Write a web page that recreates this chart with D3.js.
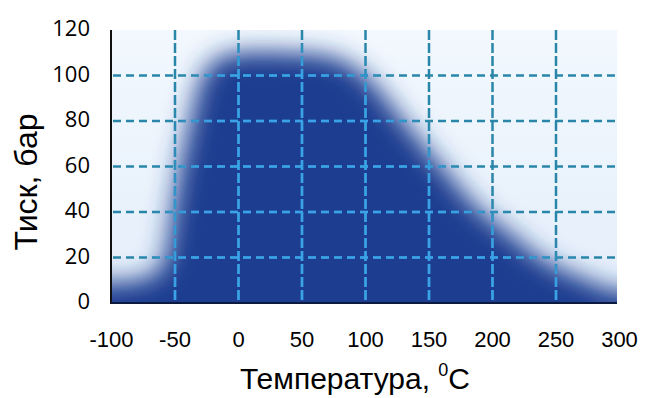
<!DOCTYPE html>
<html><head><meta charset="utf-8">
<script src="https://cdn.jsdelivr.net/npm/d3@7"></script>
<style>html,body{margin:0;padding:0;background:#fff;}svg{display:block;}</style>
</head><body>
<svg id="c" width="651" height="398"></svg>
<script>
// Upper pressure boundary of the operating region (bar) vs temperature (°C)
const temps     = [-100, -80, -65, -58, -52, -46, -38, -28, -15,   0,  40,  75,  95, 110, 130, 160, 190, 215, 240, 270, 300];
const pressures = [   9,  10,  13,  20,  40,  60,  80, 100, 108, 110, 110, 108, 102,  94,  80,  60,  41,  30,  19,  11,   5];
const xTickLabels = [-100, -50, 0, 50, 100, 150, 200, 250, 300];
const yTickLabels = [0, 20, 40, 60, 80, 100, 120];
const xGrid = [-50, 0, 50, 100, 150, 200, 250];
const yGrid = [20, 40, 60, 80, 100];
const xTitle = "Температура, ";
const xTitleSup = "0";
const xTitleUnit = "C";
const yTitle = "Тиск, бар";

const svg = d3.select("#c");
const L = 111, R = 617, T = 30, B = 303;
const x = d3.scaleLinear([-100, 300], [111.5, 619.5]);
const y = d3.scaleLinear([0, 120], [B, T]);

const defs = svg.append("defs");
defs.append("clipPath").attr("id", "plotClip")
  .append("rect").attr("x", L).attr("y", T).attr("width", R - L).attr("height", B - T);
const f = defs.append("filter").attr("id", "blur")
  .attr("x", "-20%").attr("y", "-20%").attr("width", "140%").attr("height", "140%");
f.append("feGaussianBlur").attr("stdDeviation", "13 12");

const pts = temps.map((t, i) => [x(t), y(pressures[i])]);
const n = pts.length;
const poly = [[pts[0][0] - 40, pts[0][1]], ...pts, [pts[n - 1][0] + 40, pts[n - 1][1]],
  [pts[n - 1][0] + 40, B + 40], [pts[0][0] - 40, B + 40]];
const line = d3.line().curve(d3.curveCatmullRom.alpha(0.5));
const pathD = line(poly) + "Z";

const mask = defs.append("mask").attr("id", "darkMask").attr("maskUnits", "userSpaceOnUse")
  .attr("x", 0).attr("y", 0).attr("width", 651).attr("height", 398);
mask.append("rect").attr("width", 651).attr("height", 398).attr("fill", "black");
mask.append("path").attr("d", pathD).attr("fill", "white").attr("filter", "url(#blur)");

const plot = svg.append("g").attr("clip-path", "url(#plotClip)");
const bg = defs.append("linearGradient").attr("id", "bgGrad").attr("x1", 0).attr("y1", 0).attr("x2", 0).attr("y2", 1);
bg.append("stop").attr("offset", 0).attr("stop-color", "#f2f8fe");
bg.append("stop").attr("offset", 1).attr("stop-color", "#e4eefa");
plot.append("rect").attr("x", L).attr("y", T).attr("width", R - L).attr("height", B - T).attr("fill", "url(#bgGrad)");
plot.append("path").attr("d", pathD).attr("fill", "#1c3c90").attr("filter", "url(#blur)");

function drawGrid(g, color) {
  g.selectAll("line.h").data(yGrid).join("line").attr("class", "h")
    .attr("x1", L + 2).attr("x2", R).attr("y1", d => y(d)).attr("y2", d => y(d))
    .attr("stroke", color).attr("stroke-width", 2.5).attr("stroke-dasharray", "8,5");
  g.selectAll("line.v").data(xGrid).join("line").attr("class", "v")
    .attr("x1", d => x(d)).attr("x2", d => x(d)).attr("y1", T).attr("y2", B)
    .attr("stroke", color).attr("stroke-width", 2.5).attr("stroke-dasharray", "10,3");
}
drawGrid(plot.append("g"), "#2a86a8");
drawGrid(plot.append("g").attr("mask", "url(#darkMask)"), "#3ba2ea");

svg.append("line").attr("x1", L).attr("x2", L).attr("y1", T).attr("y2", B + 1)
  .attr("stroke", "#111").attr("stroke-width", 2);
svg.append("line").attr("x1", L).attr("x2", R).attr("y1", B).attr("y2", B)
  .attr("stroke", "#0d1a40").attr("stroke-width", 2);

svg.selectAll("text.yt").data(yTickLabels).join("text").attr("class", "yt")
  .attr("x", 90).attr("y", d => y(d) + 6).attr("text-anchor", "end")
  .attr("font-family", "'Open Sans', sans-serif").attr("font-size", 22).attr("fill", "#000")
  .text(d => d);

svg.selectAll("text.xt").data(xTickLabels).join("text").attr("class", "xt")
  .attr("x", d => x(d)).attr("y", 347).attr("text-anchor", "middle")
  .attr("font-family", "'Liberation Sans', Arial, sans-serif").attr("font-size", 22).attr("fill", "#000")
  .text(d => d);

const xt = svg.append("text").attr("x", 355).attr("y", 389).attr("text-anchor", "middle")
  .attr("font-family", "'Liberation Sans', Arial, sans-serif").attr("font-size", 30).attr("fill", "#000");
xt.append("tspan").text(xTitle);
xt.append("tspan").attr("font-size", 18).attr("dy", -13).text(xTitleSup);
xt.append("tspan").attr("dy", 13).text(xTitleUnit);

svg.append("text").attr("transform", "translate(37,182) rotate(-90)").attr("text-anchor", "middle")
  .attr("font-family", "'Liberation Sans', Arial, sans-serif").attr("font-size", 32).attr("fill", "#000")
  .text(yTitle);
</script>
</body></html>
